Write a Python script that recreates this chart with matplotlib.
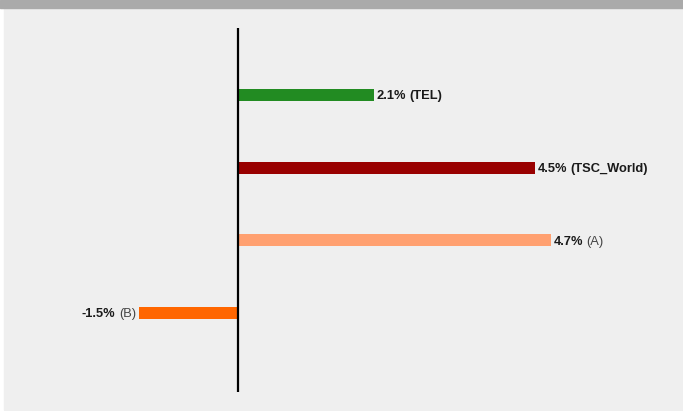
import matplotlib.pyplot as plt
from matplotlib.patches import Rectangle

# chart values (bar lengths, labels rounded to 1 decimal)
names = ["TEL", "TSC_World", "A", "B"]
values = [2.06, 4.5, 4.74, -1.5]
colors = ["#228b22", "#990000", "#ffa070", "#ff6600"]
bold_names = [True, True, False, False]

W, H = 683, 411
fig = plt.figure(figsize=(W / 100, H / 100), dpi=100)
fig.patch.set_facecolor("white")
plt.rcParams["font.family"] = ["Liberation Sans", "DejaVu Sans"]

# background panel and top band
fig.patches.append(Rectangle((4 / W, 1 / H), 1 - 4 / W, (H - 9) / H,
                             transform=fig.transFigure, color="#efefef", zorder=-2))
fig.patches.append(Rectangle((0, 1 - 8 / H), 1, 8 / H,
                             transform=fig.transFigure, color="#aaaaaa", zorder=-1))

zero_px = 238
px_per_unit = 66.0
ax = fig.add_axes([0, 1 - 392 / H, 1, 364 / H])
ax.set_facecolor("none")
ax.set_xlim(-zero_px / px_per_unit, (W - zero_px) / px_per_unit)

ypos = list(range(len(names)))
ax.set_ylim(3 + 79 / 72.7, -67 / 72.7)
ax.barh(ypos, values, height=0.165, color=colors, zorder=2)

# axis line at zero
ax.axvline(0, color="black", lw=1.6, zorder=3)
for s in ax.spines.values():
    s.set_visible(False)
ax.set_xticks([])
ax.set_yticks([])

fs = 9.3
for y, v, n, b in zip(ypos, values, names, bold_names):
    pct = f"{v:.1f}%"
    name_weight = "bold" if b else "normal"
    name_color = "#1a1a1a" if b else "#444444"
    if v >= 0:
        t1 = ax.annotate(pct, xy=(v, y), xytext=(2, -1), textcoords="offset points",
                         ha="left", va="center", fontsize=fs, fontweight="bold",
                         color="#1a1a1a")
        ax.annotate(f"({n})", xy=(1, 0), xycoords=t1, xytext=(2.5, 0),
                    textcoords="offset points", ha="left", va="bottom",
                    fontsize=fs, fontweight=name_weight, color=name_color)
    else:
        t1 = ax.annotate(f"({n})", xy=(v, y), xytext=(-2, -1), textcoords="offset points",
                         ha="right", va="center", fontsize=fs,
                         fontweight=name_weight, color=name_color)
        ax.annotate(pct, xy=(0, 0), xycoords=t1, xytext=(-2.5, 0),
                    textcoords="offset points", ha="right", va="bottom",
                    fontsize=fs, fontweight="bold", color="#1a1a1a")

fig.savefig("out.png", dpi=100)
